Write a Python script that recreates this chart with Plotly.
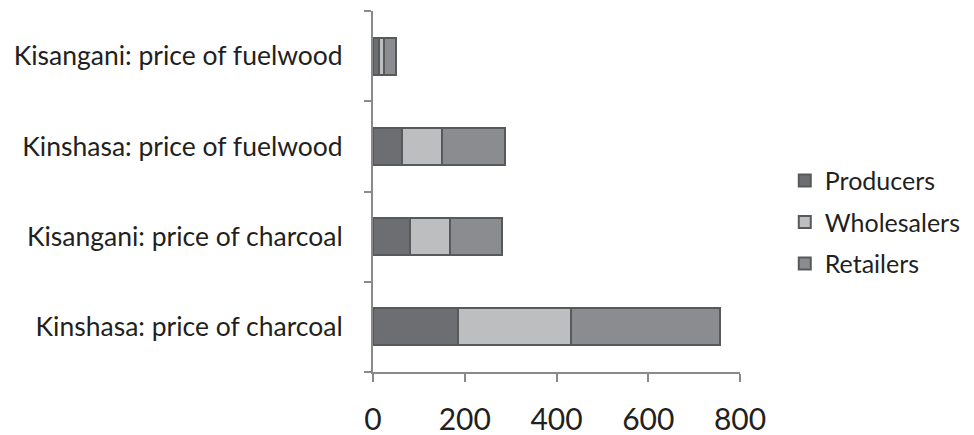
import plotly.graph_objects as go

# categories, bottom to top
categories = [
    'Kinshasa: price of charcoal',
    'Kisangani: price of charcoal',
    'Kinshasa: price of fuelwood',
    'Kisangani: price of fuelwood',
]
producers = [185, 80, 63, 12]
wholesalers = [247, 88, 87, 11]
retailers = [324, 114, 137, 28]

series_names = ['Producers', 'Wholesalers', 'Retailers']
series_colors = ['#6d6e71', '#bcbec0', '#8a8c8f']
x_ticks = [0, 200, 400, 600, 800]

fig = go.Figure()

for i, (name, vals) in enumerate(zip(series_names, [producers, wholesalers, retailers])):
    fig.add_trace(
        go.Bar(
            y=categories,
            x=vals,
            name=name,
            orientation='h',
            legendgroup=name,
            marker={'color': series_colors[i], 'line': {'color': '#58595b', 'width': 2}},
        )
    )

fig.update_layout(
    barmode='stack',
    bargap=0.59,
    width=974,
    height=435,
    plot_bgcolor='white',
    paper_bgcolor='white',
    font={'family': 'Lato', 'color': '#231f20', 'size': 26.5},
    margin={'l': 365, 'r': 242, 't': 3, 'b': 71, 'autoexpand': False},
    showlegend=True,
    legend={
        'x': 1.122,
        'y': 0.415,
        'xanchor': 'left',
        'yanchor': 'middle',
        'traceorder': 'grouped',
        'tracegroupgap': 6,
        'itemwidth': 30,
        'font': {'size': 25},
    },
    xaxis={
        'range': [0, 800],
        'tickvals': x_ticks,
        'showgrid': False,
        'zeroline': False,
        'showline': True,
        'linecolor': '#8a8a8a',
        'linewidth': 2,
        'ticks': 'outside',
        'ticklen': 8,
        'tickwidth': 2,
        'tickcolor': '#8a8a8a',
        'tickfont': {'size': 30},
        'ticklabelstandoff': 12,
    },
    yaxis={
        'showgrid': False,
        'showline': True,
        'linecolor': '#8a8a8a',
        'linewidth': 2,
        'ticks': 'outside',
        'tickson': 'boundaries',
        'ticklen': 7,
        'tickwidth': 2,
        'tickcolor': '#8a8a8a',
        'ticklabelstandoff': 23,
    },
)

fig.write_html('out.html')
